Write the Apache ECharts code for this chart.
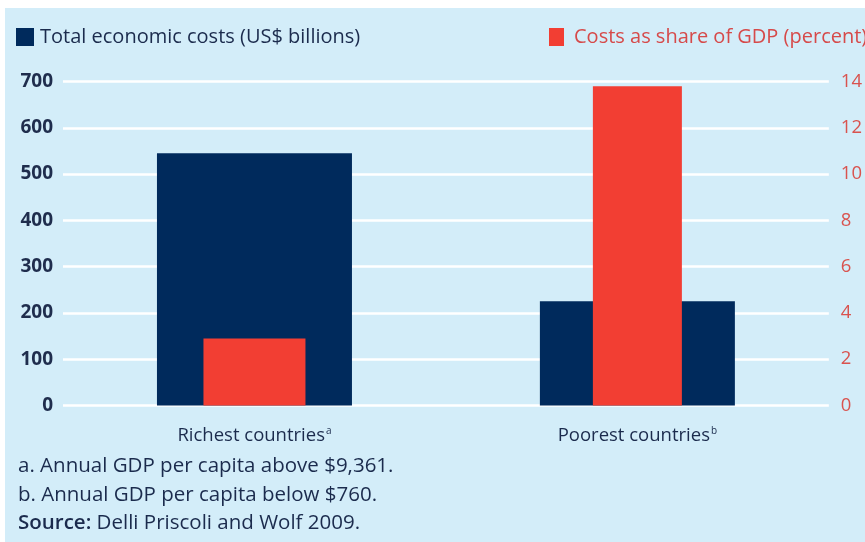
<!DOCTYPE html>
<html>
<head>
<meta charset="utf-8">
<style>
  html, body { margin: 0; padding: 0; background: #ffffff; }
  #chart { position: absolute; left: 5px; top: 8px; width: 860px; height: 534px; }
</style>
<script src="https://cdn.jsdelivr.net/npm/echarts@6/dist/echarts.min.js"></script>
</head>
<body>
<div id="chart"></div>
<script>
// Categories and their footnote markers
const categories = ['Richest countries', 'Poorest countries'];
const categoryNotes = ['a', 'b'];

// Series values
const totalCosts = [545, 225];      // US$ billions
const shareOfGdp = [2.9, 13.8];     // percent of GDP

// Axis ticks
const leftTicks = { min: 0, max: 700, interval: 100 };
const rightTicks = { min: 0, max: 14, interval: 2 };

// Text under the chart
const footnotes = [
  'a. Annual GDP per capita above $9,361.',
  'b. Annual GDP per capita below $760.'
];
const sourceLabel = 'Source:';
const sourceText = ' Delli Priscoli and Wolf 2009.';

const NAVY = '#002a5c';
const RED = '#f23e33';
const INK = '#1b2b4d';
const FONT = '"Open Sans", "Noto Sans", sans-serif';
const SHARE_NAME = 'Costs as share of GDP (percent)';
const TOTAL_NAME = 'Total economic costs (US$ billions)';

// The red bars differ in width per category; each sits on its own hidden
// category axis so that it stays centred over the navy bar.
const redWidths = [102, 89];

const chart = echarts.init(document.getElementById('chart'));

const hiddenX = () => ({
  type: 'category', data: categories, show: false,
  axisLine: { show: false }, axisTick: { show: false }
});

chart.setOption({
  backgroundColor: '#d3edf9',
  textStyle: { fontFamily: FONT },
  animation: false,
  grid: { left: 58, right: 32, top: 73.5, bottom: 136.5 },
  legend: [
    {
      data: [TOTAL_NAME],
      left: 11, top: 19, padding: 0,
      icon: 'rect', itemWidth: 18, itemHeight: 18,
      textStyle: { color: INK, fontSize: 20, fontFamily: FONT, padding: [0, 0, 0, 1] }
    },
    {
      data: [SHARE_NAME],
      left: 544, top: 19, padding: 0,
      icon: 'rect', itemWidth: 15, itemHeight: 18,
      textStyle: { color: '#d64a4a', fontSize: 20, fontFamily: FONT, padding: [0, 0, 0, 5] }
    }
  ],
  xAxis: [
    {
      type: 'category',
      data: categories,
      axisLine: { show: false },
      axisTick: { show: false },
      axisLabel: {
        margin: 21,
        formatter: (v, i) => '{t|' + v + '}{s|' + categoryNotes[i] + '}',
        rich: {
          t: { fontSize: 18.5, color: INK, fontFamily: FONT },
          s: { fontSize: 10, color: INK, fontFamily: FONT, verticalAlign: 'top', padding: [0, 0, 9, 1] }
        }
      }
    },
    hiddenX(),
    hiddenX()
  ],
  yAxis: [
    {
      type: 'value',
      min: leftTicks.min, max: leftTicks.max, interval: leftTicks.interval,
      axisLine: { show: false },
      axisTick: { show: false },
      axisLabel: { margin: 10, color: '#1f2d4d', fontSize: 19, fontWeight: 'bold', fontFamily: FONT },
      splitLine: { lineStyle: { color: '#ffffff', width: 2.5 } }
    },
    {
      type: 'value',
      min: rightTicks.min, max: rightTicks.max, interval: rightTicks.interval,
      axisLine: { show: false },
      axisTick: { show: false },
      axisLabel: { margin: 12, color: '#d9534f', fontSize: 18.5, fontFamily: FONT },
      splitLine: { show: false }
    }
  ],
  series: [
    {
      name: TOTAL_NAME,
      type: 'bar',
      data: totalCosts,
      barWidth: 195,
      itemStyle: { color: NAVY },
      xAxisIndex: 0,
      yAxisIndex: 0
    }
  ].concat(shareOfGdp.map((v, i) => ({
    name: SHARE_NAME,
    type: 'bar',
    data: shareOfGdp.map((d, j) => (j === i ? d : null)),
    barWidth: redWidths[i],
    itemStyle: { color: RED },
    xAxisIndex: i + 1,
    yAxisIndex: 1
  }))),
  graphic: [
    {
      type: 'text', left: 13, top: 448,
      style: { text: footnotes[0], fill: INK, font: '20.5px ' + FONT }
    },
    {
      type: 'text', left: 13, top: 477,
      style: { text: footnotes[1], fill: INK, font: '20.5px ' + FONT }
    },
    {
      type: 'text', left: 13, top: 505,
      style: {
        text: '{b|' + sourceLabel + '}{n|' + sourceText + '}',
        rich: {
          b: { fill: INK, font: '600 20.5px ' + FONT },
          n: { fill: INK, font: '20.5px ' + FONT }
        }
      }
    }
  ]
});
</script>
</body>
</html>
